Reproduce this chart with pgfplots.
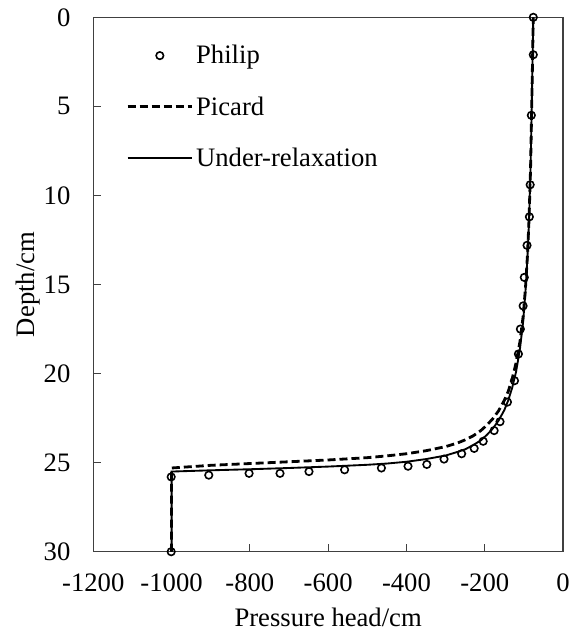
\documentclass[border=0pt]{standalone}
\usepackage{pgfplots}
\pgfplotsset{compat=1.18}
\usepackage{fontspec}
\setmainfont{Liberation Serif}
\begin{document}
\begin{tikzpicture}
\begin{axis}[
  scale only axis,
  width=352.5pt, height=401pt,
  xmin=-1200, xmax=0, ymin=0, ymax=30,
  y dir=reverse,
  xtick={-1200,-1000,-800,-600,-400,-200,0},
  ytick={0,5,10,15,20,25,30},
  tick align=inside,
  xtick pos=bottom, ytick pos=left,
  major tick length=6pt,
  axis line style={line width=0.9pt, black!75},
  tick style={black!75, line width=0.9pt},
  /pgf/number format/assume math mode=true,
  /pgf/number format/1000 sep={},
  ticklabel style={font=\fontsize{20}{22}\selectfont, inner sep=1pt},
  xticklabel style={yshift=-15pt},
  yticklabel style={xshift=-16pt},
  label style={font=\fontsize{20}{22}\selectfont},
  xlabel={Pressure head/cm},
  ylabel={Depth/cm},
  xlabel style={at={(axis description cs:0.5,0)}, anchor=center, yshift=-49pt, inner sep=2pt},
  ylabel style={at={(axis description cs:0,0.5)}, anchor=center, yshift=49pt, inner sep=2pt},
  legend cell align=left,
  legend style={draw=none, fill=none, at={(0.061,0.958)}, anchor=north west,
    font=\fontsize{20}{22}\selectfont, row sep=19pt},
  legend image code/.code={\draw[mark repeat=2,mark phase=2,#1] plot coordinates {(0cm,0cm) (0.85cm,0cm) (1.7cm,0cm)};},
]
\addplot[only marks, mark=o, mark size=2.8pt, mark options={line width=1.2pt}] coordinates {
(-76,0) (-76,2.1) (-81,5.5) (-84,9.4) (-86,11.2) (-92,12.8) (-99,14.6) (-102,16.2) (-109,17.5) (-114,18.9) (-124,20.4) (-142,21.6) (-161,22.7) (-176,23.2) (-204,23.8) (-227,24.2) (-259,24.5) (-304,24.8) (-348,25.1) (-396,25.2) (-464,25.3) (-558,25.4) (-649,25.5) (-723,25.6) (-802,25.6) (-905,25.7) (-1001,25.8) (-1001,30)
};
\addlegendentry{Philip}
\addplot[black, line width=2.1pt, dash pattern=on 6pt off 3pt] coordinates {
(-1000,30) (-1000,25.3) (-900,25.15) (-800,25.05) (-700,24.95) (-600,24.85) (-500,24.72) (-450,24.62) (-400,24.5) (-350,24.33) (-300,24.1) (-270,23.9) (-250,23.72) (-230,23.5) (-210,23.2) (-195,22.9) (-180,22.55) (-165,22.1) (-150,21.5) (-140,21.0) (-130,20.3) (-120,19.4) (-110,18.2) (-102,16.8) (-96,15.2) (-91,13.4) (-87,11.4) (-83,8.5) (-80,5) (-78,2.5) (-76,0)
};
\addlegendentry{Picard}
\addplot[black, line width=1.4pt] coordinates {
(-1000,30) (-1000,25.5) (-900,25.43) (-800,25.37) (-700,25.3) (-600,25.22) (-500,25.12) (-450,25.05) (-400,24.95) (-350,24.8) (-300,24.6) (-270,24.4) (-250,24.25) (-230,24.02) (-210,23.75) (-195,23.45) (-180,23.1) (-165,22.65) (-150,22.05) (-140,21.5) (-130,20.8) (-120,19.9) (-110,18.6) (-102,17.1) (-96,15.4) (-91,13.5) (-87,11.5) (-83,8.5) (-80,5) (-78,2.5) (-76,0)
};
\addlegendentry{Under-relaxation}
\end{axis}
\path ([yshift=13pt]current axis.north) ([xshift=-70pt]current axis.west) ([yshift=-64pt]current axis.south);
\end{tikzpicture}
\end{document}
